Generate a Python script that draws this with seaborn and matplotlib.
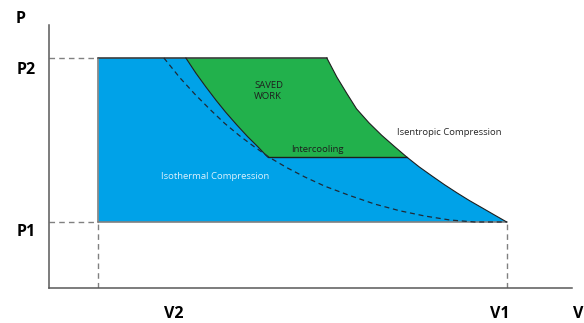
import matplotlib
matplotlib.use("Agg")
import matplotlib.pyplot as plt
import seaborn as sns
import pandas as pd

sns.set_style("white")
plt.rcParams["font.family"] = ["Open Sans", "DejaVu Sans"]

BLUE = "#00A2E8"
GREEN = "#22B14C"
DARK = "#1E1E1E"
GREY = "#808080"
AXIS = "#595959"

# state points (V1 = 10 units, P1 = 1 unit)
V1, V2 = 10.0, 1.08
P1, P2 = 1.0, 3.48
P_INT = 1.98

# single stage isentropic compression, split at intercooling pressure
isen_upper_v = [6.07, 6.29, 6.51, 6.72, 6.99, 7.27, 7.55, 7.82]
isen_upper_p = [3.48, 3.19, 2.94, 2.71, 2.50, 2.31, 2.14, 1.98]
isen_lower_v = [7.82, 8.09, 8.37, 8.64, 8.91, 9.18, 9.46, 9.73, 10.0]
isen_lower_p = [1.98, 1.832, 1.694, 1.564, 1.442, 1.326, 1.215, 1.107, 1.00]

# second stage after intercooling
stage2_v = [2.99, 3.21, 3.43, 3.65, 3.86, 4.10, 4.34, 4.56, 4.78]
stage2_p = [3.48, 3.25, 3.04, 2.84, 2.66, 2.47, 2.29, 2.14, 1.98]

# isothermal compression (dashed)
iso_v = [2.51, 2.86, 3.19, 3.52, 3.84, 4.17, 4.50, 4.83, 5.20,
         5.59, 6.03, 6.57, 7.12, 7.66, 8.21, 8.76, 9.30, 10.0]
iso_p = [3.48, 3.18, 2.93, 2.70, 2.49, 2.30, 2.13, 1.97, 1.82,
         1.68, 1.54, 1.40, 1.27, 1.17, 1.09, 1.03, 1.00, 1.00]

fig, ax = plt.subplots(figsize=(5.84, 3.23), dpi=100)
ax.set_position([0.0839, 0.108, 0.895, 0.815])
ax.set_xlim(0, 11.42)
ax.set_ylim(0, 3.98)

# blue area: total work with intercooling
blue_v = [V2] + stage2_v + isen_lower_v + [V2]
blue_p = [P2] + stage2_p + isen_lower_p + [P1]
ax.fill(blue_v, blue_p, color=BLUE, lw=0, zorder=1)

# green area: saved work
green_v = stage2_v[::-1] + isen_upper_v
green_p = stage2_p[::-1] + isen_upper_p
ax.fill(green_v, green_p, color=GREEN, lw=0, zorder=1)

# edges of the cycle
ax.plot([V2, V2], [P1, P2], color=GREY, lw=1.2, zorder=2)
ax.plot([V2, V1], [P1, P1], color=GREY, lw=1.2, zorder=2)
ax.plot([V2, isen_upper_v[0]], [P2, P2], color="#3F3F3F", lw=1.2, zorder=2)
ax.plot([stage2_v[-1], isen_upper_v[-1]], [P_INT, P_INT], color=DARK, lw=1.0, zorder=3)

curves = pd.DataFrame({
    "V": isen_upper_v + isen_lower_v[1:],
    "P": isen_upper_p + isen_lower_p[1:],
})
sns.lineplot(data=curves, x="V", y="P", sort=False, color=DARK, lw=0.8, ax=ax, zorder=3)
sns.lineplot(x=stage2_v, y=stage2_p, sort=False, color=DARK, lw=0.8, ax=ax, zorder=3)
sns.lineplot(x=iso_v, y=iso_p, sort=False, color="#1F2A36", lw=0.9,
             linestyle=(0, (4, 3)), ax=ax, zorder=3)

# guide lines to axes
dash = dict(color=GREY, lw=1.0, linestyle=(0, (4, 3)), zorder=2)
ax.plot([0, V2], [P2, P2], **dash)
ax.plot([0, V2], [P1, P1], **dash)
ax.plot([V2, V2], [0, P1], **dash)
ax.plot([V1, V1], [0, P1], **dash)

# annotations
small = 6.8
ax.text(4.48, 2.98, "SAVED\nWORK", fontsize=small, color=DARK, ha="left", va="center",
        linespacing=1.25, zorder=4)
ax.text(5.87, 2.09, "Intercooling", fontsize=small, color=DARK, ha="center", va="center", zorder=4)
ax.text(8.74, 2.36, "Isentropic Compression", fontsize=small, color="#262626",
        ha="center", va="center", zorder=4)
ax.text(3.62, 1.69, "Isothermal Compression", fontsize=small, color="#DDF1FC",
        ha="center", va="center", zorder=4)

ax.set_xticks([])
ax.set_yticks([])
ax.set_xlabel("")
ax.set_ylabel("")
for side in ["top", "right"]:
    ax.spines[side].set_visible(False)
for side in ["left", "bottom"]:
    ax.spines[side].set_color(AXIS)
    ax.spines[side].set_linewidth(1.1)

W, H = 584, 323
lab = dict(fontsize=11.5, fontweight="bold", color="black", ha="center", va="center")
fig.text(21 / W, 1 - 19 / H, "P", **lab)
fig.text(26 / W, 1 - 70 / H, "P2", **lab)
fig.text(26 / W, 1 - 232 / H, "P1", **lab)
fig.text(174 / W, 1 - 314 / H, "V2", **lab)
fig.text(500 / W, 1 - 314 / H, "V1", **lab)
fig.text(578 / W, 1 - 314 / H, "V", **lab)

fig.savefig("out.png", dpi=100, facecolor="white")
plt.close(fig)
